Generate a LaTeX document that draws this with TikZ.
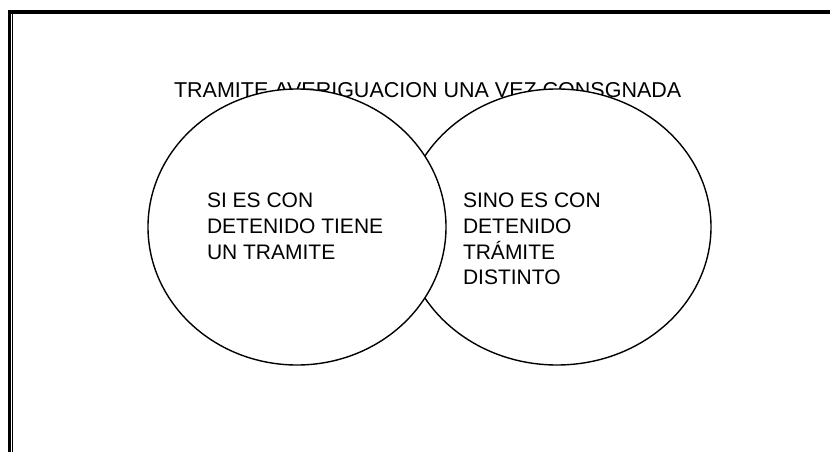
\documentclass[tikz,border=0pt]{standalone}
\usepackage{fontspec}
\setmainfont{Liberation Sans}
\usetikzlibrary{shapes.geometric}
\begin{document}
\begin{tikzpicture}[x=1pt,y=-1pt,
  bubble/.style={ellipse,draw=black,fill=white,line width=1.4pt,inner sep=0pt,outer sep=0pt},
  label/.style={inner sep=0pt,outer sep=0pt,align=left,font=\fontsize{21}{25.7}\selectfont},
  frame/.style={fill=black,draw=none}]
\useasboundingbox (0,0) rectangle (830,452);
\fill[white] (0,0) rectangle (830,452);
% frame
\path[frame] (8,10) rectangle (830,14);
\path[frame] (8,10) rectangle (11,452);
\path[frame] (12,12) rectangle (13,452);
% title
\node[label,anchor=base west,font=\fontsize{21.5}{25.7}\selectfont] (title) at (174,97.5) {TRAMITE AVERIGUACION UNA VEZ CONSGNADA};
% ellipses
\node[bubble,minimum width=308pt,minimum height=276pt] (right) at (557,227) {};
\node[bubble,minimum width=298pt,minimum height=276pt] (left) at (297,227) {};
% texts
\node[label,anchor=north west] (ltext) at (207,193) {SI ES CON\\DETENIDO TIENE\\UN TRAMITE};
\node[label,anchor=north west] (rtext) at (463,193) {SINO ES CON\\DETENIDO\\TRÁMITE\\DISTINTO};
\end{tikzpicture}
\end{document}
